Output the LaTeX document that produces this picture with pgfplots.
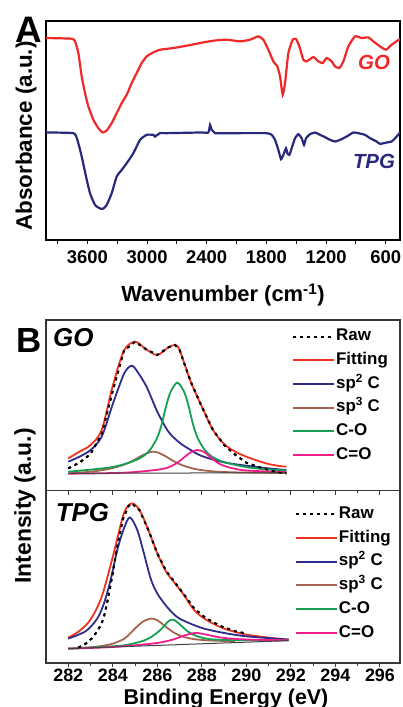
\documentclass[border=0pt]{standalone}
\usepackage{pgfplots}
\pgfplotsset{compat=1.18}
\usepackage{fontspec}
\setmainfont{Liberation Sans}
\definecolor{goRed}{RGB}{240,40,40}
\definecolor{tpgNavy}{RGB}{40,40,125}
\definecolor{fitRed}{RGB}{240,50,30}
\definecolor{spTwo}{RGB}{45,45,140}
\definecolor{spThree}{RGB}{165,100,80}
\definecolor{cO}{RGB}{20,160,80}
\definecolor{cdO}{RGB}{240,30,140}
\definecolor{frm}{RGB}{55,55,55}
\newcommand{\fs}[1]{\fontsize{#1}{#1}\selectfont}
\pgfplotsset{
  bplot/.style={
    scale only axis, width=354bp, xmin=281, xmax=296.9,
    ytick=\empty, tick align=outside,
    axis line style={frm, line width=1.2bp},
    every tick/.style={frm, line width=1bp},
    major tick length=4bp, minor tick length=2.5bp,
    legend cell align=left,
    legend image code/.code={\draw[##1, line width=1.9bp] (0bp,0bp) -- (41bp,0bp);},
    legend style={draw=none, fill=none, anchor=north west,
      font=\fs{17}\bfseries, row sep=6.2bp, inner sep=0pt,
      nodes={inner sep=1bp, text height=12bp, text depth=3.5bp}},
  },
  rawst/.style={black, line width=1.9bp, dash pattern=on 3bp off 4bp},
  fitst/.style={fitRed, line width=1.8bp, smooth, tension=0.5},
  sptw/.style={spTwo, line width=1.8bp, smooth, tension=0.5},
  spth/.style={spThree, line width=1.8bp, smooth, tension=0.5},
  cost/.style={cO, line width=1.8bp, smooth, tension=0.5},
  cdost/.style={cdO, line width=1.8bp, smooth, tension=0.5},
  basest/.style={black!75, line width=1bp},
}
\begin{document}
\begin{tikzpicture}
\useasboundingbox (0bp,0bp) rectangle (403bp,-707bp);
% ---------------- Panel A ----------------
\begin{axis}[at={(46bp,-21bp)}, anchor=north west, scale only axis,
  width=354bp, height=219bp,
  x dir=reverse, xmin=456, xmax=4016, ymin=0, ymax=656,
  xtick={600,1200,1800,2400,3000,3600},
  xticklabels={600,1200,1800,2400,3000,3600},
  minor xtick={900,1500,2100,2700,3300,3900},
  xtick pos=bottom, ytick=\empty, tick align=outside,
  major tick length=3.5bp, minor tick length=3.5bp,
  every tick/.style={black, line width=1bp},
  axis line style={black, line width=1.3bp},
  xticklabel style={font=\fs{18.5}\bfseries, inner sep=0pt, text depth=0pt, yshift=-6.5bp},
]
\addplot[goRed, line width=2.2bp, smooth, tension=0.3] coordinates {
(4016,605) (3757.5,603) (3724,595) (3690.5,560) (3657,490) (3623.4,440)
(3589.9,400) (3539.6,360) (3489.4,335) (3445.8,322) (3405.6,328) (3355.3,350)
(3305,380) (3254.7,410) (3204.4,435) (3154.2,470) (3103.9,500) (3053.6,530)
(3003.3,550) (2936.3,562) (2869.2,570) (2735.2,575) (2601.1,582) (2467,590)
(2332.9,597) (2198.8,600) (2064.8,595) (1964.2,600) (1880.4,610) (1830.1,600)
(1779.8,570) (1729.6,535) (1689.3,520) (1662.5,490) (1635.7,435) (1612.2,470)
(1578.7,560) (1535.1,600) (1501.6,602) (1468.1,580) (1427.9,540) (1394.4,535)
(1327.3,548) (1277,535) (1233.3,530) (1193.2,545) (1142.9,535) (1109.4,520)
(1065.8,515) (1025.6,535) (975.2,580) (908.3,610) (841.3,605) (774.2,607)
(723.9,595) (657,580) (596.6,570) (539.6,585) (455.8,602)
};
\addplot[tpgNavy, line width=2.2bp, smooth, tension=0.3] coordinates {
(4016,322) (3740.8,320) (3700.5,300) (3657,250) (3613.4,190) (3573.2,140)
(3522.9,105) (3470,94) (3440,94) (3405.6,105) (3355.3,140) (3305,190) (3254.7,210)
(3204.4,230) (3137.4,260) (3070.4,300) (3003.3,315) (2936.3,315) (2919.5,310)
(2869.2,320) (2802.2,320) (2467,322) (2383.2,322) (2366.4,345) (2349.7,330)
(2332.9,325) (2316.2,320) (2265.9,320) (2131.8,320) (1796.6,320) (1746.3,315)
(1712.8,300) (1679.3,270) (1652.5,242) (1629,255) (1602.2,275) (1588.8,260)
(1568.7,255) (1545.2,275) (1511.7,305) (1478.2,317) (1444.6,305) (1421.2,285)
(1401.1,305) (1360.9,317) (1310.6,322) (1260.3,315) (1210,308) (1159.7,300)
(1109.4,295) (1059.1,300) (992.1,310) (925.1,322) (874.8,320) (807.8,315)
(757.5,305) (690.5,295) (657,288) (590,292) (539.6,295) (489.3,310) (455.8,322)
};
\end{axis}
% ---------------- Panel B upper (GO) ----------------
\begin{axis}[bplot, at={(46bp,-320bp)}, anchor=north west, height=170.7bp,
  ymin=0, ymax=512, xtick={282,284,...,296}, minor xtick={283,285,...,295},
  xtick pos=bottom, xticklabels={},
  legend style={at={(0.695,0.955)}},
]
\addplot[rawst] coordinates {
(282,67) (282.5,84) (283,110) (283.5,170) (284,300) (284.5,420) (285,447) (285.5,424)
(286,407) (286.5,430) (286.8,437) (287,422) (287.5,327) (288,252) (288.5,182)
(289,137) (289.5,108) (290,84) (290.5,72) (291,62) (291.5,54) (291.8,52)};
\addlegendentry{Raw}
\addplot[fitst] coordinates {
(282,97) (282.5,117) (283,137) (283.5,182) (284,315) (284.5,420) (285,447)
(285.5,424) (286,407) (286.5,430) (286.8,437) (287,422) (287.5,327) (288,252)
(288.5,182) (289,140) (289.5,117) (290,102) (290.5,90) (291,80) (291.5,74) (291.8,72)};
\addlegendentry{Fitting}
\addplot[sptw] coordinates {
(282,87) (282.5,102) (283,122) (283.5,162) (284,260) (284.5,350) (284.8,374)
(285,367) (285.5,314) (286,237) (286.5,177) (287,144) (287.5,122) (288,104)
(289,85) (290,75) (291,67) (291.8,62)};
\addlegendentry{sp\textsuperscript{2} C}
\addplot[spth] coordinates {
(282,52) (283,57) (283.8,65) (284.5,78) (284.9,90) (285.3,105) (285.6,114)
(285.8,117) (286,115) (286.3,106) (286.7,90) (287.1,77) (287.7,65) (288.5,58)
(289.5,55) (291.8,53)};
\addlegendentry{sp\textsuperscript{3} C}
\addplot[cost] coordinates {
(282,57) (283.9,70) (284.9,88) (285.4,105) (285.7,125) (286,160) (286.2,200)
(286.4,255) (286.6,297) (286.9,324) (287.2,297) (287.4,255) (287.6,200)
(287.8,160) (288.1,125) (288.4,105) (288.9,88) (289.9,72) (290.9,64) (291.8,61)};
\addlegendentry{C-O}
\addplot[cdost] coordinates {
(282,51) (284,53) (285,56) (286,63) (286.5,70) (286.9,84) (287.2,100) (287.5,115)
(287.8,122) (288.1,116) (288.4,100) (288.7,84) (289.1,72) (289.8,62) (290.8,58) (291.8,56)};
\addlegendentry{C=O}
\addplot[basest, forget plot] coordinates {(282,52) (291.8,54)};
\addplot[rawst, forget plot] coordinates {
(282,67) (282.5,84) (283,110) (283.5,170) (284,300) (284.5,420) (285,447) (285.5,424)
(286,407) (286.5,430) (286.8,437) (287,422) (287.5,327) (288,252) (288.5,182)
(289,137) (289.5,108) (290,84) (290.5,72) (291,62) (291.5,54) (291.8,52)};
\end{axis}
% ---------------- Panel B lower (TPG) ----------------
\begin{axis}[bplot, at={(46bp,-490.7bp)}, anchor=north west, height=172.3bp,
  ymin=0, ymax=516, xtick={282,284,...,296}, minor xtick={283,285,...,295},
  xticklabels={282,284,286,288,290,292,294,296},
  xtick pos=bottom,
  xticklabel style={font=\fs{18}\bfseries, inner sep=0pt, text depth=0pt, yshift=-2bp},
  legend style={at={(0.703,0.915)}},
]
\addplot[rawst] coordinates {
(282.45,46) (282.75,56) (283.05,73) (283.28,93) (283.5,118) (283.64,148) (283.8,198)
(284,270) (284.2,350) (284.45,430) (284.7,470) (284.85,478) (285.2,458) (285.6,398)
(286,328) (286.4,275) (286.8,240) (287.2,205) (287.6,168) (288,143) (288.5,122)
(289,106) (289.5,95) (290,88)};
\addlegendentry{Raw}
\addplot[fitst] coordinates {
(282,76) (282.5,96) (283,130) (283.5,198) (284,318) (284.5,448) (284.85,478)
(285.2,458) (285.6,398) (286,328) (286.4,273) (286.8,238) (287.2,203) (287.6,163)
(288,138) (288.5,118) (289,103) (289.5,93) (290,85) (291,76) (291.9,70)};
\addlegendentry{Fitting}
\addplot[sptw] coordinates {
(282,73) (282.8,96) (283.3,133) (283.6,178) (283.9,248) (284.2,338) (284.5,403)
(284.77,436) (285.1,398) (285.4,328) (285.7,253) (286,208) (286.5,163) (287,133)
(288,105) (289,90) (290,80) (291.9,70)};
\addlegendentry{sp\textsuperscript{2} C}
\addplot[spth] coordinates {
(282,43) (283,47) (283.5,51) (284,58) (284.5,72) (284.8,90) (285.1,110) (285.4,126)
(285.74,133) (286,128) (286.3,113) (286.7,93) (287.1,80) (287.6,72) (288.2,68)
(289,66) (289.5,65)};
\addlegendentry{sp\textsuperscript{3} C}
\addplot[cost] coordinates {
(282,43) (283.5,48) (284.5,53) (285.2,63) (285.6,73) (285.9,86) (286.2,103)
(286.45,122) (286.64,130) (286.85,125) (287.1,110) (287.4,93) (287.8,80)
(288.3,72) (289,69) (290,68) (291.9,68)};
\addlegendentry{C-O}
\addplot[cdost] coordinates {
(282,43) (283,45) (284,48) (285,53) (286,60) (286.7,70) (287.2,82) (287.7,90)
(288.2,85) (288.7,78) (289.3,73) (290.2,70) (291.9,68)};
\addlegendentry{C=O}
\addplot[basest, forget plot] coordinates {(282,43) (291.9,67)};
\addplot[rawst, forget plot] coordinates {
(282.45,46) (282.75,56) (283.05,73) (283.28,93) (283.5,118) (283.64,148) (283.8,198)
(284,270) (284.2,350) (284.45,430) (284.7,470) (284.85,478) (285.2,458) (285.6,398)
(286,328) (286.4,275) (286.8,240) (287.2,205) (287.6,168) (288,143) (288.5,122)
(289,106) (289.5,95) (290,88)};
\end{axis}
% ---------------- Texts ----------------
\node[font=\fs{37}\bfseries, inner sep=0pt] at (29bp,-30bp) {A};
\node[font=\fs{35}\bfseries, inner sep=0pt] at (29bp,-341bp) {B};
\node[font=\fs{20.5}\bfseries\itshape, text=goRed, inner sep=0pt] at (374bp,-62.5bp) {GO};
\node[font=\fs{20.5}\bfseries\itshape, text=tpgNavy, inner sep=0pt] at (374bp,-161bp) {TPG};
\node[font=\fs{26}\bfseries\itshape, inner sep=0pt] at (73.3bp,-337.5bp) {GO};
\node[font=\fs{26}\bfseries\itshape, inner sep=0pt] at (82.5bp,-512.5bp) {TPG};
\node[rotate=90, font=\fs{22.5}\bfseries, inner sep=0pt] at (26bp,-136bp) {Absorbance (a.u.)};
\node[anchor=base, font=\fs{22}\bfseries, inner sep=0pt] at (223bp,-301.5bp) {Wavenumber (cm\textsuperscript{-1})};
\node[rotate=90, font=\fs{23}\bfseries, inner sep=0pt] at (25bp,-506bp) {Intensity (a.u.)};
\node[anchor=base, font=\fs{21.5}\bfseries, inner sep=0pt] at (226bp,-704bp) {Binding Energy (eV)};
\end{tikzpicture}
\end{document}
